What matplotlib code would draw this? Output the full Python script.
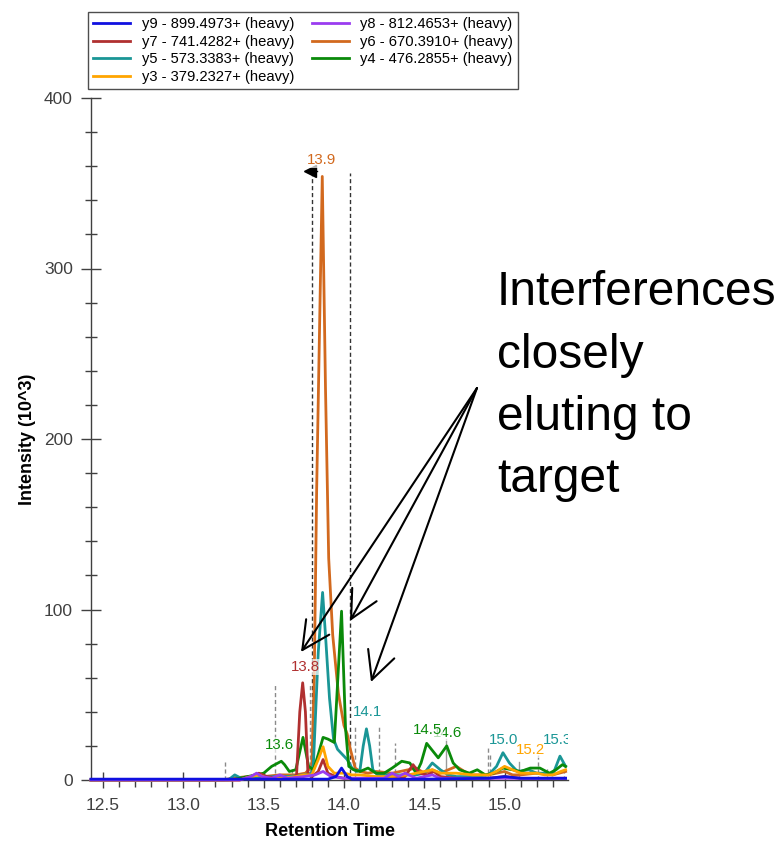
import matplotlib
matplotlib.use("Agg")
import matplotlib.pyplot as plt
from matplotlib.ticker import MultipleLocator

plt.rcParams['font.family'] = ['Liberation Sans', 'DejaVu Sans']

# ---------------- data (retention time in min, intensity in 10^3) ----------------
y9_t = [12.425, 13.3, 13.9, 13.95, 13.985, 14.02, 14.05, 14.5, 14.9, 15.0, 15.1, 15.38]
y9_v = [0.5, 0.5, 0.5, 2, 7, 2, 0.5, 0.5, 1, 2, 1, 1]

y8_t = [12.425, 13.35, 13.42, 13.456, 13.49, 13.55, 13.6, 13.65, 13.75, 13.82, 13.87, 13.92,
        14.0, 14.1, 14.25, 14.3, 14.34, 14.38, 14.45, 14.55, 14.6, 14.7, 14.9, 15.1, 15.38]
y8_v = [0, 0, 2, 4, 2, 1, 3, 1, 2, 3, 5, 2, 1, 1, 1, 4, 2, 4, 1, 3, 1, 1, 1, 1, 1]

y7_t = [12.425, 13.35, 13.42, 13.47, 13.52, 13.6, 13.68, 13.705, 13.725, 13.743, 13.76, 13.776,
        13.8, 13.84, 13.87, 13.9, 13.95, 14.0, 14.1, 14.2, 14.3, 14.38, 14.43, 14.47, 14.52,
        14.56, 14.6, 14.7, 14.8, 14.9, 15.0, 15.1, 15.2, 15.3, 15.38]
y7_v = [0, 0, 2, 4, 2, 1, 1, 3, 40, 57, 40, 3, 2, 5, 12, 4, 2, 1, 1, 1, 1, 2, 9, 4, 3,
        5, 2, 1, 1, 1, 2, 1, 1, 1, 1]

y6_t = [12.425, 13.25, 13.3, 13.4, 13.45, 13.5, 13.6, 13.7, 13.76, 13.80, 13.815, 13.83, 13.865,
        13.885, 13.905, 13.93, 13.965, 14.0, 14.02, 14.04, 14.07, 14.1, 14.15, 14.2, 14.3, 14.4,
        14.45, 14.5, 14.55, 14.6, 14.65, 14.7, 14.75, 14.8, 14.85, 14.9, 14.95, 15.0, 15.05,
        15.1, 15.2, 15.3, 15.38]
y6_v = [0, 0, 1, 2, 1, 2, 3, 3, 4, 8, 60, 170, 354,
        230, 130, 85, 51, 32, 27, 18, 7, 5, 4, 5, 4, 6,
        7, 4, 6, 4, 6, 8, 5, 3, 3, 3, 4, 5, 3,
        3, 4, 3, 5]

y5_t = [12.425, 13.28, 13.32, 13.36, 13.45, 13.55, 13.65, 13.75, 13.80, 13.81, 13.84, 13.867,
        13.885, 13.91, 13.935, 13.96, 13.99, 14.02, 14.05, 14.08, 14.1, 14.12, 14.14, 14.16,
        14.18, 14.21, 14.3, 14.4, 14.45, 14.5, 14.55, 14.6, 14.65, 14.7, 14.8, 14.9, 14.95,
        14.99, 15.03, 15.08, 15.15, 15.2, 15.25, 15.3, 15.345, 15.38]
y5_v = [0, 0, 3, 1, 1, 2, 2, 3, 4, 10, 75, 110,
        85, 48, 24, 18, 15, 12, 7, 5, 6, 20, 30, 20,
        6, 3, 3, 3, 3, 4, 10, 6, 3, 2, 2, 3, 8,
        16, 10, 5, 6, 4, 4, 3, 14, 8]

y4_t = [12.425, 13.3, 13.35, 13.4, 13.45, 13.5, 13.55, 13.61, 13.63, 13.66, 13.7, 13.745, 13.78,
        13.81, 13.84, 13.87, 13.9, 13.94, 13.985, 14.01, 14.03, 14.06, 14.1, 14.15, 14.2, 14.25,
        14.3, 14.36, 14.41, 14.45, 14.48, 14.515, 14.587, 14.64, 14.68, 14.72, 14.78, 14.83,
        14.88, 14.93, 14.99, 15.05, 15.1, 15.16, 15.22, 15.28, 15.32, 15.36, 15.38]
y4_v = [0, 0, 1, 2, 3, 4, 8, 11, 9, 5, 6, 25, 8,
        6, 15, 25, 24, 22, 99, 30, 8, 6, 5, 7, 4, 4,
        7, 11, 10, 4, 10, 21.5, 13, 20, 10, 6, 4, 6,
        3, 4, 7, 6, 5, 7, 7, 4, 6, 9, 8]

y3_t = [12.425, 13.35, 13.42, 13.47, 13.52, 13.6, 13.7, 13.75, 13.8, 13.84, 13.87, 13.9, 13.94,
        14.0, 14.05, 14.1, 14.2, 14.3, 14.4, 14.5, 14.55, 14.6, 14.7, 14.8, 14.9, 14.95, 15.0,
        15.05, 15.1, 15.15, 15.2, 15.25, 15.3, 15.35, 15.38]
y3_v = [0, 0, 2, 3, 1, 1, 2, 3, 3, 12, 19.5, 8, 4,
        4, 3, 3, 2, 2, 3, 5, 6, 4, 4, 3, 3, 5, 8,
        6, 4, 4, 4, 3, 3, 5, 6]

series_names = ["y9 - 899.4973+ (heavy)", "y8 - 812.4653+ (heavy)", "y7 - 741.4282+ (heavy)",
                "y6 - 670.3910+ (heavy)", "y5 - 573.3383+ (heavy)", "y4 - 476.2855+ (heavy)",
                "y3 - 379.2327+ (heavy)"]
series_colors = ["#1010e0", "#9a3cf0", "#b03030", "#d2691e", "#1a9696", "#0a8a0a", "#ffa500"]

# peak labels
peak_labels = ["14.6", "13.9", "13.8", "13.6", "14.1", "14.5", "15.0", "15.2", "15.3"]
peak_label_x = [14.645, 13.863, 13.757, 13.601, 14.149, 14.523, 14.996, 15.164, 15.332]
peak_label_y = [27.5, 363.6, 66.3, 20.5, 39.9, 29.3, 23.5, 17.6, 23.5]
peak_label_col = [5, 3, 2, 5, 4, 5, 4, 6, 4]

# integration boundaries of the chosen peak
boundary_x = [13.80, 14.037]
boundary_top = 356

# other candidate peak markers
mark_dashed_x = [13.259, 13.570, 13.676, 13.787, 14.068, 14.218, 14.318, 14.897, 14.909, 15.208, 15.264, 15.37]
mark_dashed_top = [10.5, 57, 8, 57, 31, 31, 21.7, 20, 16, 16, 7, 10]
mark_solid_x = [14.635, 15.09]
mark_solid_top = [24, 10.7]

# ---------------- figure ----------------
fig = plt.figure(figsize=(7.8, 8.41), dpi=100)
ax = fig.add_axes([91 / 780, 1 - 780 / 841, (568 - 91) / 780, (780 - 98) / 841])

ax.set_xlim(12.425, 15.395)
ax.set_ylim(0, 400)

for x, top in zip(mark_dashed_x, mark_dashed_top):
    ax.plot([x, x], [0, top], color="#8a8a8a", lw=1.0, ls=(0, (3, 2)), zorder=1)
for x, top in zip(mark_solid_x, mark_solid_top):
    ax.plot([x, x], [0, top], color="#9a9a9a", lw=1.0, zorder=1)
for x in boundary_x:
    ax.plot([x, x], [0, boundary_top], color="#333333", lw=1.0, ls=(0, (3, 2)), zorder=1)

all_t = [y9_t, y8_t, y7_t, y6_t, y5_t, y4_t, y3_t]
all_v = [y9_v, y8_v, y7_v, y6_v, y5_v, y4_v, y3_v]
handles = {}
draw_order = [3, 4, 5, 2, 6, 1, 0]
for i in draw_order:
    ln, = ax.plot(all_t[i], all_v[i], color=series_colors[i], lw=2.0, label=series_names[i],
                  zorder=3 + draw_order.index(i) * 0.1, clip_on=False, solid_joinstyle="round")
    handles[i] = ln

# retention-time marker arrow at top of left boundary
ax.plot([boundary_x[0] - 0.01, boundary_x[0] + 0.03], [boundary_top + 1, boundary_top + 1],
        color="black", lw=1.0, zorder=5)
ax.plot([boundary_x[0] - 0.01], [boundary_top + 1], marker="<", color="black",
        markersize=8, zorder=5)

for txt, x, y, c in zip(peak_labels, peak_label_x, peak_label_y, peak_label_col):
    ax.text(x, y, txt, color=series_colors[c], fontsize=10.8, ha="center", va="center",
            zorder=6, clip_on=True,
            bbox=dict(facecolor="white", edgecolor="none", alpha=0.7, pad=0.5))

for s in ["top", "right"]:
    ax.spines[s].set_visible(False)
for s in ["left", "bottom"]:
    ax.spines[s].set_color("#404040")
    ax.spines[s].set_linewidth(1.0)

ax.xaxis.set_major_locator(MultipleLocator(0.5))
ax.xaxis.set_minor_locator(MultipleLocator(0.1))
ax.yaxis.set_major_locator(MultipleLocator(100))
ax.yaxis.set_minor_locator(MultipleLocator(20))
ax.xaxis.set_major_formatter(matplotlib.ticker.FormatStrFormatter("%.1f"))
ax.tick_params(axis="x", which="major", direction="inout", length=12, width=1.0,
               colors="#404040", labelsize=12.5, pad=7)
ax.tick_params(axis="x", which="minor", direction="out", length=5, width=1.0, colors="#404040")
ax.tick_params(axis="y", which="major", direction="inout", length=14, width=1.0,
               colors="#404040", labelsize=12.5, pad=6)
ax.tick_params(axis="y", which="minor", direction="inout", length=9, width=1.0, colors="#404040")

ax.set_xlabel("Retention Time", fontsize=13, fontweight="bold", labelpad=7)
ax.set_ylabel("Intensity (10^3)", fontsize=13, fontweight="bold", labelpad=6)

leg_order = [0, 2, 4, 6, 1, 3, 5]
leg = fig.legend([handles[i] for i in leg_order], [series_names[i] for i in leg_order],
                 ncol=2, loc="upper left", bbox_to_anchor=(88 / 780, 1 - 12 / 841),
                 fontsize=10.6, frameon=True, fancybox=False, borderaxespad=0,
                 handlelength=2.5, handletextpad=0.8, columnspacing=1.2,
                 labelspacing=0.24, borderpad=0.35)
leg.get_frame().set_edgecolor("#222222")
leg.get_frame().set_linewidth(1.0)

fig.text(497 / 780, 1 - 270 / 841, "Interferences\nclosely\neluting to\ntarget",
         fontsize=34.5, ha="left", va="top", linespacing=1.5, color="black")

origin = (477 / 780, 1 - 388 / 841)
tips = [(301, 652), (350, 621), (371, 682)]
for tx, ty in tips:
    fig.add_artist(matplotlib.patches.FancyArrowPatch(
        posA=origin, posB=(tx / 780, 1 - ty / 841), transform=fig.transFigure,
        arrowstyle="->,head_length=0.8,head_width=0.4", mutation_scale=25,
        color="black", lw=1.5, shrinkA=0, shrinkB=0, zorder=10))

fig.savefig("out.png", dpi=100)
